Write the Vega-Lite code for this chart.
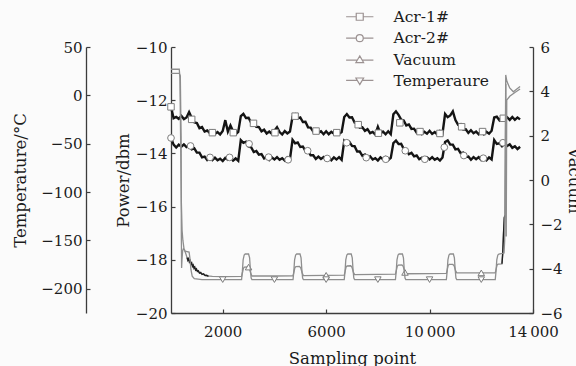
{
 "$schema": "https://vega.github.io/schema/vega-lite/v6.json",
 "width": 362, "height": 266,
 "autosize": {"type": "none"},
 "padding": {"left": 171, "top": 47, "right": 43, "bottom": 53},
 "background": "#fbfbfb",
 "config": {
  "view": {"stroke": null},
  "font": "DejaVu Serif",
  "mark": {"invalid": "filter"},
  "axis": {"labelFont": "DejaVu Serif", "titleFont": "DejaVu Serif", "labelFontSize": 15, "titleFontSize": 16.5, "titleFontWeight": "normal", "labelColor": "#1c1c1c", "titleColor": "#1c1c1c", "domainColor": "#3c3c3c", "tickColor": "#3c3c3c", "domainWidth": 1.3, "tickWidth": 1.2, "tickSize": -4, "grid": false, "labelFlush": false, "labelOverlap": false}
 },
 "datasets": {
  "acr": [
   {"x":0,"a1":-12.25,"a2":-13.42},{"x":100,"a1":-12.68,"a2":-13.67},{"x":200,"a1":-12.63,"a2":-13.78},{"x":300,"a1":-12.70,"a2":-13.67},{"x":400,"a1":-12.59,"a2":-13.75},{"x":500,"a1":-12.71,"a2":-13.66},{"x":600,"a1":-12.65,"a2":-13.76},{"x":700,"a1":-12.45,"a2":-13.72},{"x":800,"a1":-12.66,"a2":-13.85},{"x":900,"a1":-12.83,"a2":-13.81},
   {"x":1000,"a1":-12.86,"a2":-13.97},{"x":1100,"a1":-13.05,"a2":-13.97},{"x":1200,"a1":-13.01,"a2":-14.15},{"x":1300,"a1":-13.18,"a2":-14.12},{"x":1400,"a1":-13.14,"a2":-14.25},{"x":1500,"a1":-13.24,"a2":-14.17},{"x":1600,"a1":-13.15,"a2":-14.25},{"x":1700,"a1":-13.27,"a2":-14.16},{"x":1800,"a1":-13.20,"a2":-14.26},{"x":1900,"a1":-13.29,"a2":-14.20},
   {"x":2000,"a1":-13.16,"a2":-14.29},{"x":2100,"a1":-12.75,"a2":-14.17},{"x":2200,"a1":-13.18,"a2":-14.24},{"x":2300,"a1":-12.95,"a2":-14.16},{"x":2400,"a1":-13.17,"a2":-14.27},{"x":2500,"a1":-13.28,"a2":-14.19},{"x":2600,"a1":-13.19,"a2":-14.28},{"x":2700,"a1":-12.60,"a2":-13.50},{"x":2800,"a1":-12.51,"a2":-13.60},{"x":2900,"a1":-12.67,"a2":-13.56},
   {"x":3000,"a1":-12.66,"a2":-13.74},{"x":3100,"a1":-12.85,"a2":-13.77},{"x":3200,"a1":-12.82,"a2":-13.95},{"x":3300,"a1":-13.00,"a2":-13.91},{"x":3400,"a1":-13.01,"a2":-14.05},{"x":3500,"a1":-13.17,"a2":-14.03},{"x":3600,"a1":-13.11,"a2":-14.19},{"x":3700,"a1":-13.25,"a2":-14.14},{"x":3800,"a1":-13.18,"a2":-14.25},{"x":3900,"a1":-13.26,"a2":-14.15},
   {"x":4000,"a1":-13.15,"a2":-14.23},{"x":4100,"a1":-13.02,"a2":-14.14},{"x":4200,"a1":-13.20,"a2":-14.24},{"x":4300,"a1":-13.29,"a2":-14.18},{"x":4400,"a1":-13.16,"a2":-14.27},{"x":4500,"a1":-13.25,"a2":-14.15},{"x":4600,"a1":-13.18,"a2":-14.22},{"x":4700,"a1":-12.62,"a2":-13.49},{"x":4800,"a1":-12.53,"a2":-13.62},{"x":4900,"a1":-12.68,"a2":-13.59},
   {"x":5000,"a1":-12.65,"a2":-13.76},{"x":5100,"a1":-12.82,"a2":-13.74},{"x":5200,"a1":-12.81,"a2":-13.91},{"x":5300,"a1":-13.02,"a2":-13.90},{"x":5400,"a1":-13.03,"a2":-14.07},{"x":5500,"a1":-13.18,"a2":-14.07},{"x":5600,"a1":-13.10,"a2":-14.21},{"x":5700,"a1":-13.22,"a2":-14.12},{"x":5800,"a1":-13.17,"a2":-14.21},{"x":5900,"a1":-13.28,"a2":-14.14},
   {"x":6000,"a1":-13.17,"a2":-14.25},{"x":6100,"a1":-13.28,"a2":-14.17},{"x":6200,"a1":-13.19,"a2":-14.26},{"x":6300,"a1":-13.26,"a2":-14.15},{"x":6400,"a1":-13.15,"a2":-14.23},{"x":6500,"a1":-13.27,"a2":-14.14},{"x":6600,"a1":-13.20,"a2":-14.24},{"x":6700,"a1":-12.63,"a2":-13.53},{"x":6800,"a1":-12.52,"a2":-13.64},{"x":6900,"a1":-12.65,"a2":-13.57},
   {"x":7000,"a1":-12.64,"a2":-13.72},{"x":7100,"a1":-12.84,"a2":-13.73},{"x":7200,"a1":-12.83,"a2":-13.93},{"x":7300,"a1":-13.03,"a2":-13.93},{"x":7400,"a1":-13.02,"a2":-14.09},{"x":7500,"a1":-13.15,"a2":-14.04},{"x":7600,"a1":-13.09,"a2":-14.17},{"x":7700,"a1":-13.24,"a2":-14.11},{"x":7800,"a1":-13.19,"a2":-14.23},{"x":7900,"a1":-13.29,"a2":-14.18},
   {"x":8000,"a1":-13.0,"a2":-14.27},{"x":8100,"a1":-13.25,"a2":-14.15},{"x":8200,"a1":-13.18,"a2":-14.22},{"x":8300,"a1":-13.28,"a2":-14.14},{"x":8400,"a1":-13.17,"a2":-14.25},{"x":8500,"a1":-13.28,"a2":-14.17},{"x":8600,"a1":-12.53,"a2":-13.61},{"x":8700,"a1":-12.42,"a2":-13.52},{"x":8800,"a1":-12.55,"a2":-13.65},{"x":8900,"a1":-12.73,"a2":-13.64},
   {"x":9000,"a1":-12.76,"a2":-13.83},{"x":9100,"a1":-12.95,"a2":-13.86},{"x":9200,"a1":-12.91,"a2":-14.03},{"x":9300,"a1":-13.08,"a2":-13.98},{"x":9400,"a1":-13.07,"a2":-14.11},{"x":9500,"a1":-13.22,"a2":-14.08},{"x":9600,"a1":-13.14,"a2":-14.22},{"x":9700,"a1":-13.27,"a2":-14.16},{"x":9800,"a1":-13.19,"a2":-14.26},{"x":9900,"a1":-13.26,"a2":-14.15},
   {"x":10000,"a1":-13.15,"a2":-14.23},{"x":10100,"a1":-13.27,"a2":-14.14},{"x":10200,"a1":-13.20,"a2":-14.24},{"x":10300,"a1":-13.29,"a2":-14.18},{"x":10400,"a1":-13.16,"a2":-14.27},{"x":10500,"a1":-13.25,"a2":-14.15},{"x":10600,"a1":-12.52,"a2":-13.57},{"x":10700,"a1":-12.64,"a2":-13.51},{"x":10800,"a1":-12.57,"a2":-13.67},{"x":10900,"a1":-12.42,"a2":-13.67},
   {"x":11000,"a1":-12.75,"a2":-13.85},{"x":11100,"a1":-12.92,"a2":-13.83},{"x":11200,"a1":-12.90,"a2":-13.99},{"x":11300,"a1":-13.10,"a2":-13.97},{"x":11400,"a1":-13.09,"a2":-14.13},{"x":11500,"a1":-13.23,"a2":-14.12},{"x":11600,"a1":-13.13,"a2":-14.24},{"x":11700,"a1":-13.24,"a2":-14.14},{"x":11800,"a1":-13.18,"a2":-14.22},{"x":11900,"a1":-13.28,"a2":-14.14},
   {"x":12000,"a1":-13.17,"a2":-14.25},{"x":12100,"a1":-13.28,"a2":-14.17},{"x":12200,"a1":-13.19,"a2":-14.26},{"x":12300,"a1":-13.26,"a2":-14.15},{"x":12400,"a1":-13.15,"a2":-14.23},{"x":12500,"a1":-12.65,"a2":-13.50},{"x":12600,"a1":-12.62,"a2":-13.64},{"x":12700,"a1":-12.75,"a2":-13.62},{"x":12800,"a1":-12.62,"a2":-13.73},{"x":12900,"a1":-12.71,"a2":-13.63},
   {"x":13000,"a1":-12.64,"a2":-13.72},{"x":13100,"a1":-12.74,"a2":-13.66},{"x":13200,"a1":-12.63,"a2":-13.79},{"x":13300,"a1":-12.74,"a2":-13.73},{"x":13400,"a1":-12.65,"a2":-13.84},{"x":13500,"a1":-12.72,"a2":-13.75}
  ],
  "acrm": [
   {"x":0,"v":-12.25,"s":"Acr-1#"},{"x":800,"v":-12.72,"s":"Acr-1#"},{"x":1600,"v":-13.22,"s":"Acr-1#"},{"x":2410,"v":-13.22,"s":"Acr-1#"},{"x":3190,"v":-12.87,"s":"Acr-1#"},{"x":4020,"v":-13.22,"s":"Acr-1#"},{"x":4800,"v":-12.6,"s":"Acr-1#"},{"x":5610,"v":-13.16,"s":"Acr-1#"},{"x":6410,"v":-13.22,"s":"Acr-1#"},{"x":7240,"v":-12.92,"s":"Acr-1#"},{"x":8020,"v":-13.24,"s":"Acr-1#"},{"x":8850,"v":-12.85,"s":"Acr-1#"},{"x":9630,"v":-13.18,"s":"Acr-1#"},{"x":10400,"v":-13.25,"s":"Acr-1#"},{"x":11240,"v":-13.0,"s":"Acr-1#"},{"x":12050,"v":-13.18,"s":"Acr-1#"},{"x":12850,"v":-12.68,"s":"Acr-1#"},
   {"x":0,"v":-13.42,"s":"Acr-2#"},{"x":755,"v":-13.72,"s":"Acr-2#"},{"x":1510,"v":-14.15,"s":"Acr-2#"},{"x":2265,"v":-14.15,"s":"Acr-2#"},{"x":3020,"v":-13.64,"s":"Acr-2#"},{"x":3775,"v":-14.14,"s":"Acr-2#"},{"x":4530,"v":-14.24,"s":"Acr-2#"},{"x":5285,"v":-13.9,"s":"Acr-2#"},{"x":6040,"v":-14.19,"s":"Acr-2#"},{"x":6795,"v":-13.6,"s":"Acr-2#"},{"x":7550,"v":-14.16,"s":"Acr-2#"},{"x":8305,"v":-14.22,"s":"Acr-2#"},{"x":9060,"v":-13.9,"s":"Acr-2#"},{"x":9815,"v":-14.22,"s":"Acr-2#"},{"x":10570,"v":-13.77,"s":"Acr-2#"},{"x":11325,"v":-14.08,"s":"Acr-2#"},{"x":12080,"v":-14.18,"s":"Acr-2#"},{"x":12835,"v":-13.6,"s":"Acr-2#"}
  ],
  "vac": [
   {"x":0,"v":4.81},{"x":320,"v":4.81},{"x":360,"v":4.7},{"x":390,"v":2.0},{"x":400,"v":-2.5},{"x":410,"v":-3.97},{"x":425,"v":-3.6},{"x":450,"v":-3.2},{"x":480,"v":-3.1},{"x":520,"v":-3.15},{"x":580,"v":-3.35},{"x":620,"v":-3.5},{"x":700,"v":-3.62},{"x":800,"v":-3.8},{"x":900,"v":-3.96},{"x":1000,"v":-4.08},{"x":1100,"v":-4.17},{"x":1200,"v":-4.24},{"x":1300,"v":-4.29},{"x":1400,"v":-4.33},{"x":1600,"v":-4.35},{"x":2000,"v":-4.36},
   {"x":2730,"v":-4.35},{"x":2770,"v":-4.15},{"x":2800,"v":-3.98},{"x":2840,"v":-3.93},{"x":2980,"v":-3.92},{"x":3030,"v":-3.98},{"x":3080,"v":-4.2},{"x":3130,"v":-4.33},
   {"x":4000,"v":-4.33},{"x":4720,"v":-4.32},{"x":4760,"v":-4.12},{"x":4790,"v":-3.96},{"x":4830,"v":-3.91},{"x":4970,"v":-3.9},{"x":5020,"v":-3.97},{"x":5070,"v":-4.18},{"x":5120,"v":-4.31},
   {"x":6000,"v":-4.3},{"x":6700,"v":-4.29},{"x":6740,"v":-4.09},{"x":6770,"v":-3.93},{"x":6810,"v":-3.88},{"x":6950,"v":-3.87},{"x":7000,"v":-3.94},{"x":7050,"v":-4.15},{"x":7100,"v":-4.27},
   {"x":8000,"v":-4.26},{"x":8680,"v":-4.25},{"x":8720,"v":-4.05},{"x":8750,"v":-3.89},{"x":8790,"v":-3.84},{"x":8930,"v":-3.83},{"x":8980,"v":-3.9},{"x":9030,"v":-4.11},{"x":9080,"v":-4.23},
   {"x":10000,"v":-4.22},{"x":10650,"v":-4.21},{"x":10690,"v":-4.01},{"x":10720,"v":-3.85},{"x":10760,"v":-3.81},{"x":10900,"v":-3.81},{"x":10950,"v":-3.87},{"x":11000,"v":-4.07},{"x":11050,"v":-4.19},
   {"x":12000,"v":-4.19},{"x":12540,"v":-4.19},{"x":12580,"v":-3.99},{"x":12610,"v":-3.84},{"x":12650,"v":-3.79},{"x":12800,"v":-3.78},{"x":12830,"v":-3.3},{"x":12860,"v":-2.4},{"x":12890,"v":-1.7},{"x":12915,"v":-1.6},{"x":12945,"v":4.74},{"x":12990,"v":4.45},{"x":13100,"v":4.15},{"x":13240,"v":3.98},{"x":13350,"v":4.08},{"x":13500,"v":4.22}
  ],
  "vacd": [
   {"x":620,"v":-3.5,"g":1},{"x":650,"v":-3.62,"g":1},{"x":680,"v":-3.55,"g":1},{"x":710,"v":-3.7,"g":1},{"x":740,"v":-3.64,"g":1},{"x":770,"v":-3.8,"g":1},{"x":800,"v":-3.74,"g":1},{"x":830,"v":-3.9,"g":1},{"x":860,"v":-3.84,"g":1},{"x":890,"v":-3.98,"g":1},{"x":920,"v":-3.93,"g":1},{"x":950,"v":-4.06,"g":1},{"x":985,"v":-4.01,"g":1},{"x":1020,"v":-4.13,"g":1},{"x":1060,"v":-4.1,"g":1},{"x":1100,"v":-4.2,"g":1},{"x":1150,"v":-4.17,"g":1},{"x":1200,"v":-4.26,"g":1},{"x":1260,"v":-4.23,"g":1},{"x":1320,"v":-4.31,"g":1},{"x":1380,"v":-4.3,"g":1},{"x":1450,"v":-4.35,"g":1},
   {"x":12800,"v":-3.78,"g":2},{"x":12830,"v":-3.3,"g":2},{"x":12860,"v":-2.4,"g":2},{"x":12890,"v":-1.7,"g":2},{"x":12915,"v":-1.6,"g":2}
  ],
  "vacm": [
   {"x":3000,"v":-3.93},{"x":6000,"v":-4.3},{"x":9050,"v":-4.17},{"x":12000,"v":-4.19}
  ],
  "temp": [
   {"x":0,"v":27},{"x":320,"v":27},{"x":345,"v":18},{"x":370,"v":-40},{"x":400,"v":-110},{"x":430,"v":-140},{"x":460,"v":-150},{"x":500,"v":-158},{"x":540,"v":-161},{"x":700,"v":-162},{"x":730,"v":-168},{"x":770,"v":-180},{"x":820,"v":-187},{"x":900,"v":-189.5},{"x":1200,"v":-190.5},
   {"x":2730,"v":-190.5},{"x":2760,"v":-182},{"x":2790,"v":-170},{"x":2830,"v":-165},{"x":2870,"v":-164},{"x":3000,"v":-164},{"x":3040,"v":-168},{"x":3070,"v":-180},{"x":3100,"v":-189},{"x":3130,"v":-190.5},
   {"x":4720,"v":-190.5},{"x":4750,"v":-182},{"x":4780,"v":-170},{"x":4820,"v":-165},{"x":4860,"v":-164},{"x":4990,"v":-164},{"x":5030,"v":-168},{"x":5060,"v":-180},{"x":5090,"v":-189},{"x":5120,"v":-190.5},
   {"x":6700,"v":-190.5},{"x":6730,"v":-182},{"x":6760,"v":-170},{"x":6800,"v":-165},{"x":6840,"v":-164},{"x":6970,"v":-164},{"x":7010,"v":-168},{"x":7040,"v":-180},{"x":7070,"v":-189},{"x":7100,"v":-190.5},
   {"x":8680,"v":-190.5},{"x":8710,"v":-182},{"x":8740,"v":-170},{"x":8780,"v":-165},{"x":8820,"v":-164},{"x":8950,"v":-164},{"x":8990,"v":-168},{"x":9020,"v":-180},{"x":9050,"v":-189},{"x":9080,"v":-190.5},
   {"x":10650,"v":-190.5},{"x":10680,"v":-182},{"x":10710,"v":-170},{"x":10750,"v":-165},{"x":10790,"v":-164},{"x":10920,"v":-164},{"x":10960,"v":-168},{"x":10990,"v":-180},{"x":11020,"v":-189},{"x":11050,"v":-190.5},
   {"x":12540,"v":-190.5},{"x":12570,"v":-182},{"x":12600,"v":-170},{"x":12640,"v":-165},{"x":12680,"v":-164},{"x":12880,"v":-163},{"x":12905,"v":-150},{"x":12930,"v":-60},{"x":12950,"v":12},{"x":12965,"v":-146},{"x":12985,"v":-5},{"x":13100,"v":-1},{"x":13300,"v":3},{"x":13500,"v":6.5}
  ],
  "tempm": [
   {"x":2000,"v":-190.5},{"x":4000,"v":-190.5},{"x":6000,"v":-190.5},{"x":8000,"v":-190.5},{"x":10000,"v":-190.5},{"x":12000,"v":-190.5}
  ],
  "leg": [
   {"s":"Acr-1#"},{"s":"Acr-2#"},{"s":"Vacuum"},{"s":"Temperaure"}
  ]
 },
 "encoding": {
  "x": {"field": "x", "type": "quantitative", "scale": {"domain": [0, 14000], "nice": false, "zero": false},
   "axis": {"title": "Sampling point", "values": [2000, 6000, 10000, 14000], "labelExpr": "datum.value >= 10000 ? floor(datum.value / 1000) + '\u2009000' : '' + datum.value", "labelPadding": 15.5, "titleX": 181, "titleY": 50, "titleBaseline": "alphabetic"}}
 },
 "layer": [
  {
   "encoding": {"y": {"field": "v", "type": "quantitative", "scale": {"domain": [-20, -10], "nice": false, "zero": false},
    "axis": {"orient": "left", "title": "Power/dbm", "values": [-20, -18, -16, -14, -12, -10], "labelPadding": 8, "titleAngle": -90, "titleX": -43, "titleY": 133, "titleBaseline": "alphabetic", "titleAlign": "center"}}},
   "layer": [
    {"data": {"name": "acr"}, "transform": [{"fold": ["a1", "a2"], "as": ["k", "v"]}],
     "mark": {"type": "line", "color": "#141414", "strokeWidth": 2.4},
     "encoding": {"detail": {"field": "k"}}},
    {"data": {"name": "acrm"}, "transform": [{"filter": "datum.s === 'Acr-1#'"}],
     "mark": {"type": "point", "shape": "square", "filled": true, "fill": "white", "stroke": "#7c7c7c", "strokeWidth": 1, "size": 42, "opacity": 1}},
    {"data": {"name": "acrm"}, "transform": [{"filter": "datum.s === 'Acr-2#'"}],
     "mark": {"type": "point", "shape": "circle", "filled": true, "fill": "white", "stroke": "#7c7c7c", "strokeWidth": 1, "size": 45, "opacity": 1}},
    {"data": {"name": "leg"},
     "mark": {"type": "point", "filled": false, "color": "#9c9292", "stroke": "#9c9292", "strokeWidth": 1.2, "opacity": 1},
     "encoding": {"shape": {"field": "s", "type": "nominal",
      "scale": {"domain": ["Acr-1#", "Acr-2#", "Vacuum", "Temperaure"],
       "range": ["M-3.9,0H-1M1,0H3.9M-1,-1H1V1H-1Z", "M-3.9,0H-1M1,0H3.9M1,0A1,1,0,1,1,-1,0A1,1,0,1,1,1,0Z", "M-3.9,0.15H-0.7M0.7,0.15H3.9M0,-1.05L1.1,0.85L-1.1,0.85Z", "M-3.9,-0.15H-0.7M0.7,-0.15H3.9M0,1.05L1.1,-0.85L-1.1,-0.85Z"]},
      "legend": {"title": null, "orient": "none", "legendX": 181, "legendY": -38, "direction": "vertical", "padding": 0, "rowPadding": 4.4, "labelOffset": 26, "labelFont": "DejaVu Serif", "labelFontSize": 15.5, "labelColor": "#1c1c1c", "symbolSize": 49, "labelBaseline": "middle", "symbolStrokeColor": "#9c9292", "symbolStrokeWidth": 1.2, "symbolOpacity": 1}}}}
   ]
  },
  {
   "encoding": {"y": {"field": "v", "type": "quantitative", "scale": {"domain": [-6, 6], "nice": false, "zero": false},
    "axis": {"orient": "right", "title": "Vacuum", "values": [-6, -4, -2, 0, 2, 4, 6], "labelPadding": 11, "titleAngle": 90, "titleX": 35, "titleY": 133, "titleBaseline": "alphabetic", "titleAlign": "center"}}},
   "layer": [
    {"data": {"name": "vac"}, "mark": {"type": "line", "color": "#8e8e8e", "strokeWidth": 1.3}},
    {"data": {"name": "vacd"}, "mark": {"type": "line", "color": "#202020", "strokeWidth": 1.4}, "encoding": {"detail": {"field": "g"}}},
    {"data": {"name": "vacm"},
     "mark": {"type": "point", "shape": "triangle-up", "filled": true, "fill": "white", "stroke": "#7c7c7c", "strokeWidth": 1, "size": 42, "opacity": 1}}
   ]
  },
  {
   "encoding": {"y": {"field": "v", "type": "quantitative", "scale": {"domain": [-225, 50], "nice": false, "zero": false},
    "axis": {"orient": "left", "offset": 85, "title": "Temperature/°C", "values": [-200, -150, -100, -50, 0, 50], "labelPadding": 8, "titleAngle": -90, "titleX": -60.5, "titleY": 133, "titleBaseline": "alphabetic", "titleAlign": "center"}}},
   "layer": [
    {"data": {"name": "temp"}, "mark": {"type": "line", "color": "#8e8e8e", "strokeWidth": 1.3}},
    {"data": {"name": "tempm"},
     "mark": {"type": "point", "shape": "triangle-down", "filled": true, "fill": "white", "stroke": "#7c7c7c", "strokeWidth": 1, "size": 42, "opacity": 1}}
   ]
  }
 ],
 "resolve": {"scale": {"y": "independent"}}
}
